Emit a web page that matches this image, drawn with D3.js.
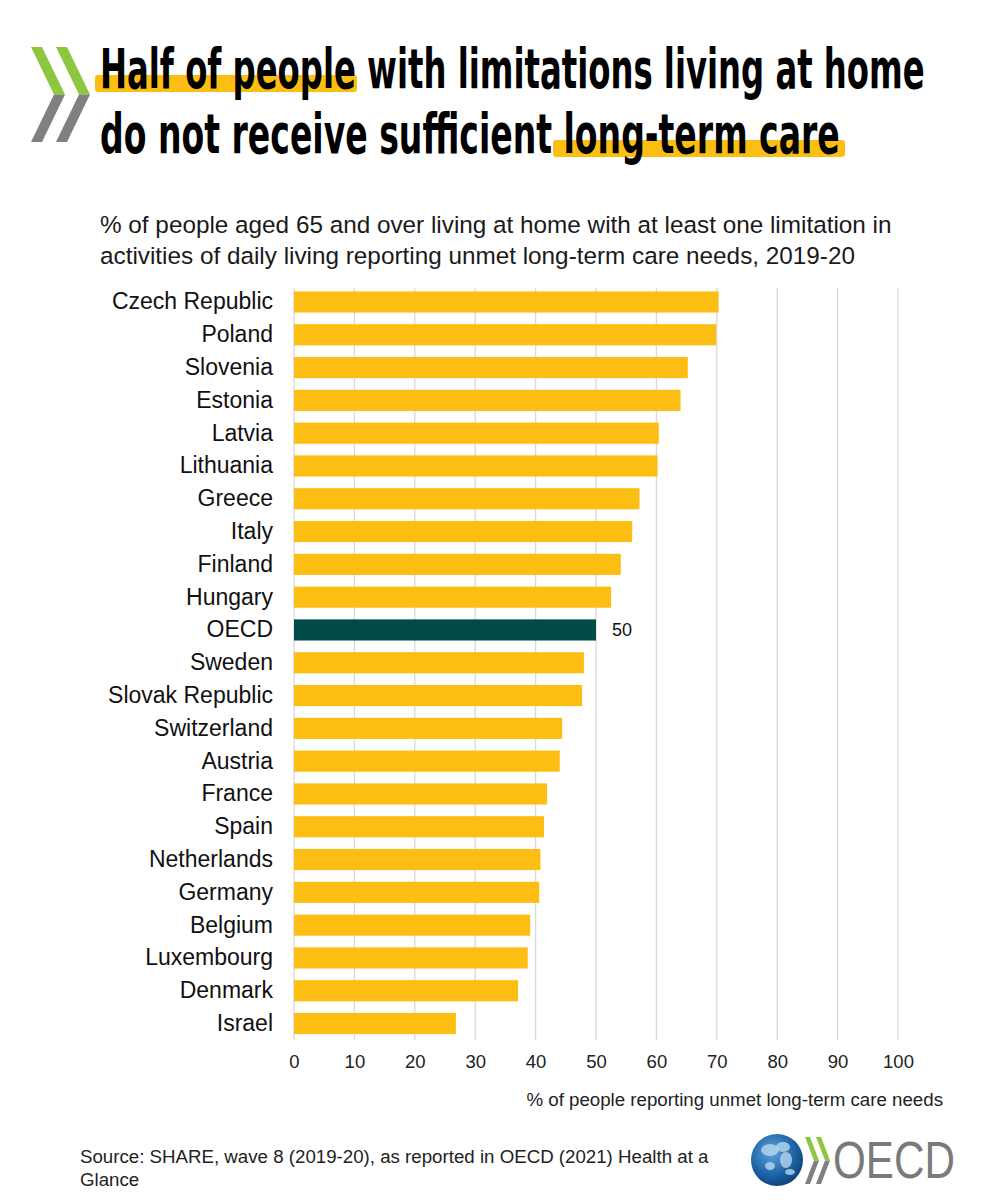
<!DOCTYPE html>
<html><head><meta charset="utf-8">
<script src="https://cdn.jsdelivr.net/npm/d3@7"></script>
<style>body{margin:0;background:#fff}svg{display:block}</style>
</head><body>
<script>
const countries = ["Czech Republic","Poland","Slovenia","Estonia","Latvia","Lithuania","Greece","Italy","Finland","Hungary","OECD","Sweden","Slovak Republic","Switzerland","Austria","France","Spain","Netherlands","Germany","Belgium","Luxembourg","Denmark","Israel"];
const values = [70.3,69.9,65.2,64.0,60.4,60.2,57.2,56.0,54.1,52.5,50,48.0,47.7,44.4,44.0,41.9,41.4,40.8,40.6,39.1,38.7,37.1,26.8];
const xTicks = [0,10,20,30,40,50,60,70,80,90,100];
const titleLines = ["Half of people with limitations living at home","do not receive sufficient long-term care"];
const subtitleLines = ["% of people aged 65 and over living at home with at least one limitation in","activities of daily living reporting unmet long-term care needs, 2019-20"];
const xTitle = "% of people reporting unmet long-term care needs";
const sourceLines = ["Source: SHARE, wave 8 (2019-20), as reported in OECD (2021) Health at a","Glance"];
const highlightLabel = "OECD";

const W=986,H=1200;
const FONT="Arial,'Liberation Sans',sans-serif";
const svg=d3.select("body").append("svg").attr("width",W).attr("height",H);
svg.append("rect").attr("width",W).attr("height",H).attr("fill","#fff");

const defs=svg.append("defs");
const rg=defs.append("radialGradient").attr("id","globe").attr("cx","40%").attr("cy","35%").attr("r","70%");
rg.append("stop").attr("offset","0%").attr("stop-color","#5fa3dc");
rg.append("stop").attr("offset","60%").attr("stop-color","#1f66a8");
rg.append("stop").attr("offset","100%").attr("stop-color","#0d3f78");

function chevron(g,x0,y0,w,h,t){
  g.append("path").attr("d",`M${x0},${y0} L${x0+t},${y0} L${x0+t+w},${y0+h/2} L${x0+w},${y0+h/2} Z`).attr("fill","#8dc63f");
  g.append("path").attr("d",`M${x0+w},${y0+h/2} L${x0+t+w},${y0+h/2} L${x0+t},${y0+h} L${x0},${y0+h} Z`).attr("fill","#808080");
}
const lg=svg.append("g");
chevron(lg,31,47,23,95,11);
chevron(lg,56,47,23,95,11);

svg.append("rect").attr("x",95).attr("y",75).attr("width",262).attr("height",17).attr("rx",3).attr("fill","#fdbe14");
svg.append("rect").attr("x",553).attr("y",140).attr("width",292).attr("height",17).attr("rx",3).attr("fill","#fdbe14");
const tl=[{t:titleLines[0],y:88,len:825},{t:titleLines[1],y:153,len:740}];
const titles=svg.selectAll("text.title").data(tl).join("text").attr("class","title")
  .attr("x",0).attr("y",0).text(d=>d.t)
  .style("font-family","'Liberation Sans Narrow','DejaVu Sans Condensed',sans-serif")
  .style("font-weight","700").style("font-size","56px").attr("fill","#000");
titles.each(function(d){
  const w=this.getComputedTextLength();
  d3.select(this).attr("transform",`translate(100,${d.y}) scale(${d.len/w},1)`);
});

svg.selectAll("text.sub").data(subtitleLines).join("text").attr("class","sub")
  .attr("x",100).attr("y",(d,i)=>233+i*31).text(d=>d)
  .style("font-family",FONT).style("font-size","24.3px").attr("fill","#1a1a1a");

const x=d3.scaleLinear().domain([0,100]).range([294,898]);
const y=d3.scaleBand().domain(countries).range([285.5,1040]).paddingInner(0.355).paddingOuter(0.18);

svg.append("g").selectAll("line").data(xTicks).join("line")
  .attr("x1",d=>x(d)).attr("x2",d=>x(d)).attr("y1",288).attr("y2",1040)
  .attr("stroke","#d9d9d9").attr("stroke-width",1.3);

svg.append("g").selectAll("rect").data(countries).join("rect")
  .attr("x",x(0)).attr("y",d=>y(d)).attr("height",y.bandwidth())
  .attr("width",(d,i)=>x(values[i])-x(0))
  .attr("fill",d=>d===highlightLabel?"#004b48":"#fdbe14");

const yAxis=svg.append("g").attr("transform",`translate(${x(0)},0)`).call(d3.axisLeft(y).tickSize(0).tickPadding(21));
yAxis.select(".domain").remove();
yAxis.selectAll("text").style("font-family",FONT).style("font-size","23px").attr("fill","#111");

const hi=countries.indexOf(highlightLabel);
svg.append("text").attr("x",x(values[hi])+16).attr("y",y(highlightLabel)+y.bandwidth()/2).attr("dy","0.35em")
  .text(values[hi]).style("font-family",FONT).style("font-size","18px").attr("fill","#111");

const xAxis=svg.append("g").attr("transform","translate(0,1040)").call(d3.axisBottom(x).tickValues(xTicks).tickSize(0).tickPadding(15));
xAxis.select(".domain").remove();
xAxis.selectAll("text").style("font-family",FONT).style("font-size","18.5px").attr("fill","#222");

svg.append("text").attr("x",943).attr("y",1106).attr("text-anchor","end").text(xTitle)
  .style("font-family",FONT).style("font-size","18.7px").attr("fill","#222");

svg.selectAll("text.src").data(sourceLines).join("text").attr("class","src")
  .attr("x",80).attr("y",(d,i)=>1163+i*23).text(d=>d)
  .style("font-family",FONT).style("font-size","18.7px").attr("fill","#222");

const ol=svg.append("g");
ol.append("circle").attr("cx",777).attr("cy",1160).attr("r",26).attr("fill","url(#globe)");
const land=[[770,1150,9,6],[783,1147,7,5],[786,1160,6,8],[770,1166,5,4],[790,1172,5,3]];
ol.selectAll("ellipse").data(land).join("ellipse").attr("cx",d=>d[0]).attr("cy",d=>d[1]).attr("rx",d=>d[2]).attr("ry",d=>d[3]).attr("fill","#b8d6ef").attr("opacity",0.8);
chevron(ol,805,1137,9,47,5);
chevron(ol,816,1137,9,47,5);
ol.append("text").attr("x",833).attr("y",1178).text("OECD").attr("textLength",122).attr("lengthAdjust","spacingAndGlyphs")
  .style("font-family",FONT).style("font-size","52px").attr("fill","#7a7a7a");
</script>
</body></html>
